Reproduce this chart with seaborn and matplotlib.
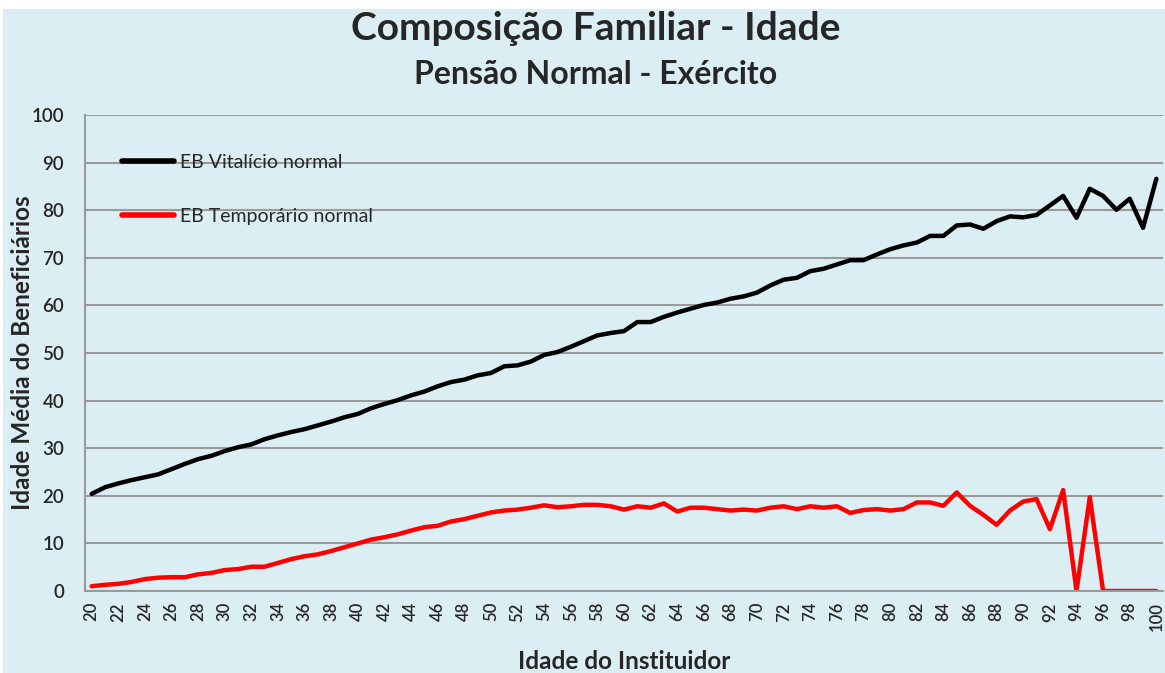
import numpy as np
import pandas as pd
import matplotlib
matplotlib.use("Agg")
import matplotlib.pyplot as plt
import seaborn as sns
from matplotlib.patches import Rectangle
from matplotlib.ticker import MultipleLocator, FixedLocator

# -----------------------------
# Data
# -----------------------------
idades = list(range(20, 101))

vitalicio = [
    20.4, 21.8, 22.6, 23.3, 23.9, 24.5, 25.6, 26.7, 27.7, 28.4,   # 20-29
    29.4, 30.2, 30.8, 31.9, 32.7, 33.4, 34.0, 34.8, 35.6, 36.5,   # 30-39
    37.2, 38.4, 39.3, 40.1, 41.1, 41.9, 43.0, 43.9, 44.4, 45.3,   # 40-49
    45.8, 47.2, 47.4, 48.2, 49.6, 50.2, 51.3, 52.5, 53.7, 54.2,   # 50-59
    54.6, 56.5, 56.5, 57.6, 58.5, 59.3, 60.1, 60.6, 61.4, 61.9,   # 60-69
    62.7, 64.2, 65.4, 65.8, 67.2, 67.7, 68.6, 69.5, 69.5, 70.7,   # 70-79
    71.8, 72.6, 73.2, 74.6, 74.6, 76.8, 77.0, 76.1, 77.7, 78.7,   # 80-89
    78.5, 79.0, 81.0, 83.0, 78.4, 84.5, 83.0, 80.1, 82.4, 76.3,   # 90-99
    86.6,                                                         # 100
]

temporario = [
    1.0, 1.3, 1.5, 1.9, 2.5, 2.8, 2.9, 2.9, 3.5, 3.8,             # 20-29
    4.4, 4.6, 5.1, 5.1, 5.9, 6.7, 7.3, 7.7, 8.4, 9.2,             # 30-39
    10.0, 10.8, 11.3, 11.9, 12.7, 13.4, 13.7, 14.6, 15.1, 15.8,   # 40-49
    16.5, 16.9, 17.1, 17.5, 18.0, 17.6, 17.8, 18.1, 18.1, 17.8,   # 50-59
    17.1, 17.8, 17.5, 18.4, 16.7, 17.5, 17.5, 17.2, 16.9, 17.1,   # 60-69
    16.9, 17.5, 17.8, 17.2, 17.8, 17.5, 17.8, 16.4, 17.0, 17.2,   # 70-79
    16.9, 17.2, 18.6, 18.6, 17.9, 20.7, 17.9, 16.0, 13.9, 16.9,   # 80-89
    18.8, 19.3, 13.0, 21.2, 0.0, 19.7, 0.0, 0.0, 0.0, 0.0,        # 90-99
    0.0,                                                          # 100
]

series_names = ["EB Vitalício normal", "EB Temporário normal"]
cores = {"EB Vitalício normal": "#000000", "EB Temporário normal": "#FF0000"}

df = pd.DataFrame({
    "Idade": idades * 2,
    "Valor": vitalicio + temporario,
    "Serie": [series_names[0]] * len(idades) + [series_names[1]] * len(idades),
})

# -----------------------------
# Style
# -----------------------------
bg = "#DBEEF3"
grid_c = "#9A9A9A"
sns.set_style("white")
plt.rcParams["font.family"] = ["Lato", "DejaVu Sans"]

fig = plt.figure(figsize=(11.65, 6.73), dpi=100, facecolor="white")
fig.patches.append(Rectangle((0.003, 0), 0.997, 1 - 9 / 673, transform=fig.transFigure,
                             facecolor=bg, edgecolor="none", zorder=-10))

ax = fig.add_axes([85 / 1165, 82 / 673, 1078 / 1165, 476 / 673])
ax.set_facecolor(bg)

sns.lineplot(data=df, x="Idade", y="Valor", hue="Serie", hue_order=series_names,
             palette=cores, linewidth=3.2, ax=ax, solid_capstyle="round")

# axes
ax.set_xlim(19.5, 100.5)
ax.set_ylim(0, 100)
ax.yaxis.set_major_locator(MultipleLocator(10))
ax.xaxis.set_major_locator(FixedLocator(list(range(20, 101, 2))))
ax.xaxis.set_minor_locator(FixedLocator(list(np.arange(19.5, 101, 1.0))))
ax.grid(axis="y", color=grid_c, linewidth=1.5)
ax.set_axisbelow(True)

for s in ["top", "right"]:
    ax.spines[s].set_visible(False)
for s in ["left", "bottom"]:
    ax.spines[s].set_color(grid_c)
    ax.spines[s].set_linewidth(1.5)

ax.tick_params(axis="x", which="major", length=0, pad=8, labelsize=12, rotation=90)
ax.tick_params(axis="x", which="minor", length=6, width=1.2, color=grid_c, direction="out")
ax.tick_params(axis="y", which="major", length=6, width=1.2, color=grid_c, labelsize=13.5, pad=9)
for lab in ax.get_xticklabels() + ax.get_yticklabels():
    lab.set_fontweight("semibold")

ax.set_xlabel("Idade do Instituidor", fontsize=17.5, fontweight="bold", labelpad=14)
ax.set_ylabel("Idade Média do Beneficiários", fontsize=17.5, fontweight="bold", labelpad=-2)

# legend
leg = ax.legend(loc="upper left", bbox_to_anchor=(0.018, 0.955), frameon=False,
                fontsize=14, handlelength=2.7, handletextpad=0.3, labelspacing=1.9)
for h in leg.get_lines():
    h.set_linewidth(4)

# titles
fig.text(0.511, 0.958, "Composição Familiar - Idade", ha="center", va="center",
         fontsize=28, fontweight="bold")
fig.text(0.511, 0.89, "Pensão Normal - Exército", ha="center", va="center",
         fontsize=23, fontweight="bold")

plt.savefig("out.png", dpi=100, facecolor=fig.get_facecolor())
